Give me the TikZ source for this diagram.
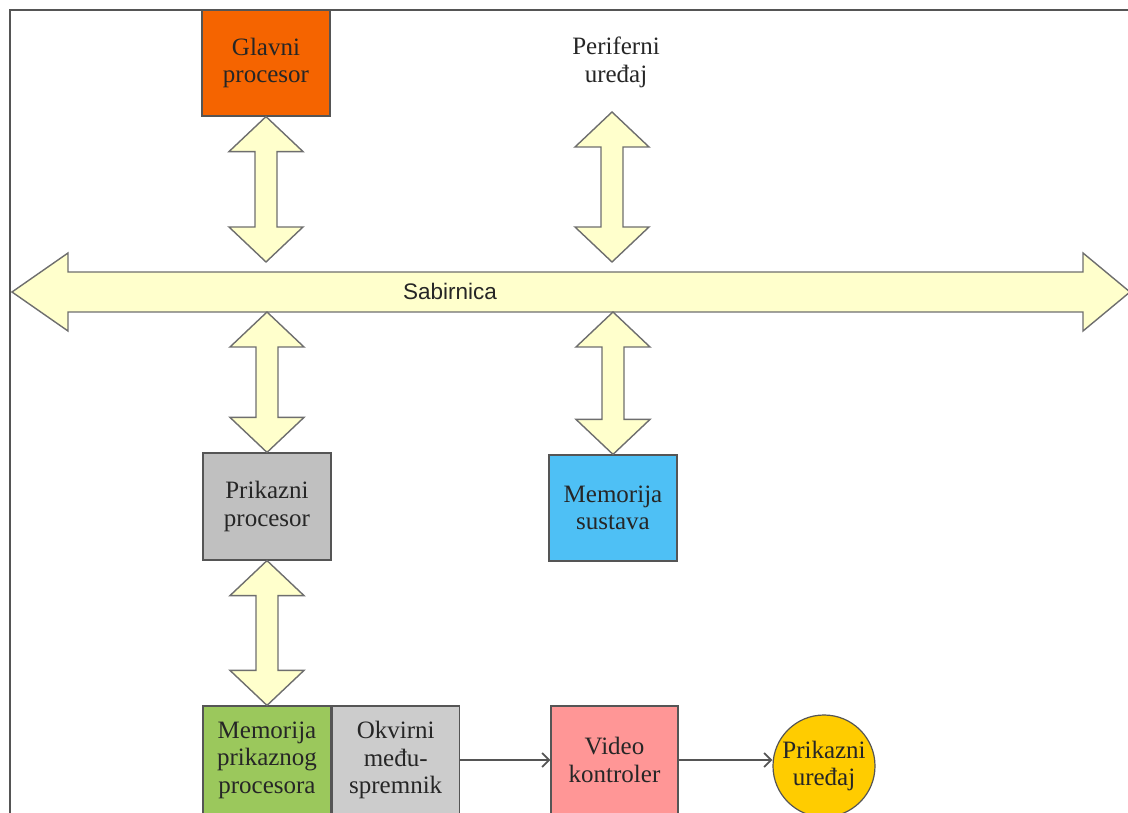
\documentclass[tikz,border=0pt]{standalone}
\usepackage{fontspec}
\setmainfont{Liberation Serif}
\newfontfamily\labelsans{Liberation Sans}
\usetikzlibrary{calc,arrows.meta}

\definecolor{cpuorange}{RGB}{245,100,0}
\definecolor{gpugray}{RGB}{192,192,192}
\definecolor{sysblue}{RGB}{78,192,245}
\definecolor{vramgreen}{RGB}{155,200,92}
\definecolor{fbgray}{RGB}{204,204,204}
\definecolor{vidpink}{RGB}{255,150,150}
\definecolor{dispgold}{RGB}{255,204,0}
\definecolor{busfill}{RGB}{255,255,204}
\definecolor{busline}{RGB}{110,110,110}
\definecolor{boxline}{RGB}{85,85,85}
\definecolor{ink}{RGB}{38,38,38}

\tikzset{
  box/.style={draw=boxline, line width=1.2pt, inner sep=0pt, align=center,
    text=ink, font=\fontsize{25}{27.5}\selectfont,
    minimum width=128pt, minimum height=106pt},
  busarrow/.style={draw=busline, fill=busfill, line width=1.4pt, line join=miter},
  flow/.style={draw=boxline, line width=1.3pt,
    -{Straight Barb[length=7pt,width=14pt,line width=1.8pt]}},
  frame/.style={draw=boxline, line width=1.4pt}
}

% vertical two-headed arrow between two tip points (#1 above #2)
\newcommand{\vdarrow}[2]{%
  \path[busarrow] let \p1=#1, \p2=#2 in
    (\x1,\y1) -- (\x1+37pt,\y1-35pt) -- (\x1+11pt,\y1-35pt)
    -- (\x1+11pt,\y2+35pt) -- (\x1+37pt,\y2+35pt) -- (\x1,\y2)
    -- (\x1-37pt,\y2+35pt) -- (\x1-11pt,\y2+35pt)
    -- (\x1-11pt,\y1-35pt) -- (\x1-37pt,\y1-35pt) -- cycle;}

\begin{document}
\begin{tikzpicture}[x=1pt,y=1pt]
\useasboundingbox (0,0) rectangle (1128,812);
\clip (0,0) rectangle (1128,812);

% outer frame (top and left edges)
\draw[frame] (1140,802) -- (10,802) -- (10,-10);

% blocks
\node[box, fill=cpuorange] (glavni) at (266,749) {Glavni\\procesor};
\node[align=center, text=ink, font=\fontsize{25}{28}\selectfont] (periph) at (616,750) {Periferni\\uređaj};
\coordinate (pertip) at (612,700);

\node[box, fill=gpugray, minimum height=107pt] (prikproc) at (267,305.5) {Prikazni\\procesor};
\node[box, fill=sysblue] (memsus) at (613,304) {Memorija\\sustava};

\node[box, fill=vramgreen, minimum height=108pt] (memprik) at (267,52) {Memorija\\prikaznog\\procesora};
\node[box, fill=fbgray, minimum width=127pt, minimum height=108pt, anchor=west] (okvirni) at (memprik.east) {Okvirni\\među-\\spremnik};
\node[box, fill=vidpink, minimum width=127pt, minimum height=108pt] (video) at (614.5,52) {Video\\kontroler};
\node[circle, draw=boxline, line width=1.2pt, fill=dispgold, inner sep=0pt,
  minimum size=102pt, align=center, text=ink, font=\fontsize{25}{27.5}\selectfont]
  (disp) at (824,46) {Prikazni\\uređaj};

% system bus
\coordinate (busL) at (12,520);
\coordinate (busR) at (1130,520);
\coordinate (busAbove) at (0,550);
\coordinate (busBelow) at (0,500);
\path[busarrow] let \p1=(busL), \p2=(busR) in
  (\x1,\y1) -- (\x1+56pt,\y1+39pt) -- (\x1+56pt,\y1+20pt)
  -- (\x2-47pt,\y1+20pt) -- (\x2-47pt,\y1+39pt) -- (\x2,\y1)
  -- (\x2-47pt,\y1-39pt) -- (\x2-47pt,\y1-20pt)
  -- (\x1+56pt,\y1-20pt) -- (\x1+56pt,\y1-39pt) -- cycle;
\node[text=ink, font=\labelsans\fontsize{22.5}{27}\selectfont] (buslabel) at (450,521) {Sabirnica};

% bus connections
\vdarrow{(glavni.south)}{(glavni.south |- busAbove)}
\vdarrow{(pertip)}{(pertip |- busAbove)}
\vdarrow{(prikproc.north |- busBelow)}{(prikproc.north)}
\vdarrow{(memsus.north |- busBelow)}{(memsus.north)}
\vdarrow{(prikproc.south)}{(memprik.north)}

% display pipeline
\draw[flow] (okvirni.east) -- (video.west);
\draw[flow] (video.east) -- (video.east -| disp.west);
\end{tikzpicture}
\end{document}
